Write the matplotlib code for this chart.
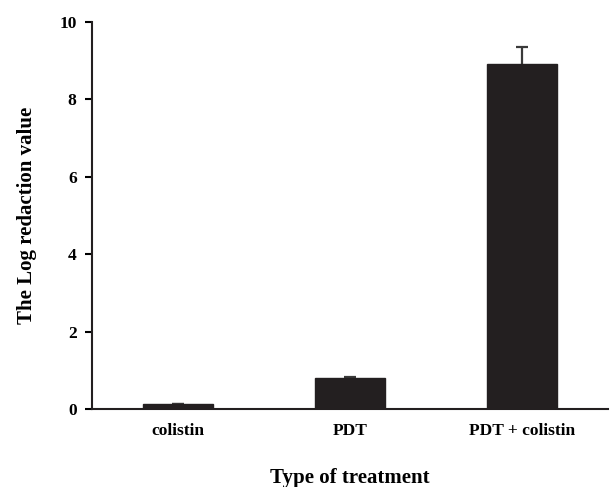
import matplotlib.pyplot as plt
import numpy as np

treatments = ['colistin', 'PDT', 'PDT + colistin']
log_reduction = [0.13, 0.80, 8.92]
errors = [0.0, 0.03, 0.43]
y_ticks = [0, 2, 4, 6, 8, 10]

plt.rcParams['font.family'] = ['Liberation Serif', 'DejaVu Serif']
plt.rcParams['font.weight'] = 'bold'

fig = plt.figure(figsize=(6.11, 4.87), dpi=100)
ax = fig.add_axes([0.1506, 0.160, 0.8444, 0.795])

x = np.arange(len(treatments))
# error bars drawn under the bars so only the upper half shows
ax.errorbar(x, log_reduction, yerr=errors, fmt='none', ecolor='#3a3a3a',
            elinewidth=1.6, capsize=4.5, capthick=1.6, zorder=2)
ax.bar(x, log_reduction, width=0.41, color='#231f20', edgecolor='#231f20', zorder=3)

ax.set_xlim(-0.5, 2.5)
ax.set_ylim(0, 10)
ax.set_yticks(y_ticks)
ax.set_xticks(x)
ax.set_xticklabels(treatments)
ax.tick_params(axis='x', length=0, pad=10, labelsize=12.5)
ax.tick_params(axis='y', length=5, width=1.5, direction='out', pad=6, labelsize=12.5)
for lbl in ax.get_xticklabels() + ax.get_yticklabels():
    lbl.set_fontweight('bold')

for side in ['top', 'right']:
    ax.spines[side].set_visible(False)
for side in ['left', 'bottom']:
    ax.spines[side].set_linewidth(1.5)
    ax.spines[side].set_color('#231f20')
    ax.spines[side].set_zorder(4)

ax.set_xlabel('Type of treatment', fontsize=15, fontweight='bold', labelpad=21)
ax.set_ylabel('The Log redaction value', fontsize=15, fontweight='bold', labelpad=16)

fig.savefig('out.png', dpi=100)
